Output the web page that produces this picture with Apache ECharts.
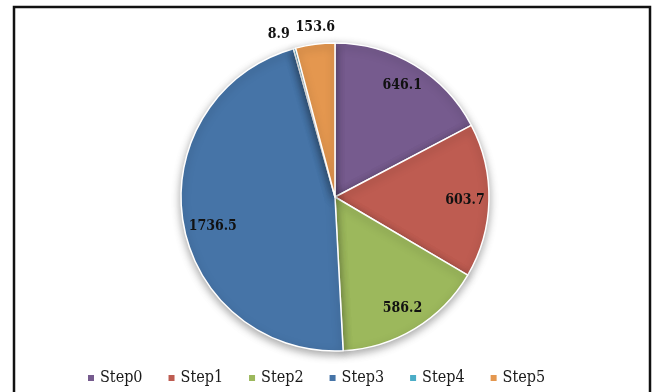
<!DOCTYPE html>
<html>
<head>
<meta charset="utf-8">
<script src="https://cdn.jsdelivr.net/npm/echarts@6/dist/echarts.min.js"></script>
<style>
html,body{margin:0;padding:0;background:#fff;}
#chart{width:652px;height:392px;}
</style>
</head>
<body>
<div id="chart"></div>
<script>
var categories = ['Step0', 'Step1', 'Step2', 'Step3', 'Step4', 'Step5'];
var values = [646.1, 603.7, 586.2, 1736.5, 8.9, 153.6];
var colors = ['#765B8E', '#BE5C51', '#9CB85C', '#4674A7', '#4BADC7', '#E4974F'];
var outsideLabelSet = ['Step4', 'Step5'];
var labelOffsets = {Step3: [6, 8], Step4: [-10, 7], Step5: [3, 5]};

var labelFont = {fontFamily: 'DejaVu Serif Condensed', fontWeight: 'bold', fontSize: 14, color: '#111'};
var center = [335, 197];

var mainData = categories.map(function (c, i) {
  return {name: c, value: values[i], itemStyle: {color: colors[i]}};
});
function overlayData(showOutside) {
  return categories.map(function (c, i) {
    var isOut = outsideLabelSet.indexOf(c) >= 0;
    var show = showOutside ? isOut : !isOut;
    var lab = {show: show};
    if (labelOffsets[c]) lab.offset = labelOffsets[c];
    return {name: c, value: values[i], label: lab};
  });
}
var overlayBase = {
  type: 'pie', center: center, silent: true, startAngle: 90, clockwise: true,
  itemStyle: {color: 'rgba(0,0,0,0)', borderWidth: 0},
  label: Object.assign({position: 'inside', formatter: '{c}'}, labelFont),
  labelLine: {show: false},
  emphasis: {disabled: true},
  tooltip: {show: false}
};

var chart = echarts.init(document.getElementById('chart'), null, {renderer: 'canvas'});
chart.setOption({
  animation: false,
  backgroundColor: '#fff',
  graphic: [{
    type: 'rect', shape: {x: 14, y: 7, width: 636, height: 400},
    style: {fill: 'none', stroke: '#111', lineWidth: 2.5}, z: 100
  }],
  legend: {
    data: categories, left: 81, top: 365, itemWidth: 8, itemHeight: 8, itemGap: 24,
    icon: 'rect',
    textStyle: {fontFamily: 'DejaVu Serif Condensed', fontSize: 16, color: '#1a1a1a'}
  },
  series: [
    {
      type: 'pie', center: center, radius: [0, 154], startAngle: 90, clockwise: true,
      data: mainData, label: {show: false}, labelLine: {show: false},
      itemStyle: {borderColor: '#fff', borderWidth: 1.5, shadowBlur: 8, shadowColor: 'rgba(0,0,0,0.35)', shadowOffsetY: 3},
      emphasis: {disabled: true}
    },
    Object.assign({}, overlayBase, {radius: [100, 154], data: overlayData(false)}),
    Object.assign({}, overlayBase, {radius: [160, 186], data: overlayData(true)})
  ]
});
</script>
</body>
</html>
